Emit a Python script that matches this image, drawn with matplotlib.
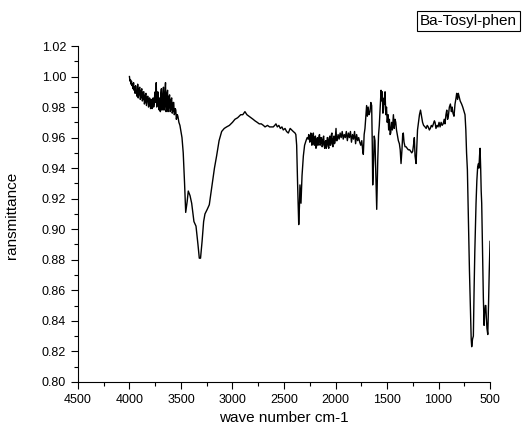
import numpy as np
import matplotlib
matplotlib.use('Agg')
import matplotlib.pyplot as plt
from matplotlib.ticker import MultipleLocator

plt.rcParams['font.family'] = ['Liberation Sans', 'DejaVu Sans']

# wave number (cm-1) and transmittance
wn_noisy1 = [4000, 3995, 3990, 3985, 3980, 3975, 3970, 3965, 3960, 3955, 3950, 3945, 3940, 3935,
             3930, 3925, 3920, 3915, 3910, 3905, 3900, 3895, 3890, 3885, 3880, 3875, 3870, 3865,
             3860, 3855, 3850, 3845, 3840, 3835, 3830, 3825, 3820, 3815, 3810, 3805, 3800, 3795,
             3790, 3785, 3780, 3775, 3770, 3765, 3760, 3755, 3750, 3745, 3740, 3735, 3730, 3725,
             3720, 3715, 3710, 3705, 3700, 3695, 3690, 3685, 3680, 3675, 3670, 3665, 3660, 3655,
             3650, 3645, 3640, 3635, 3630, 3625, 3620, 3615, 3610, 3605, 3600, 3595, 3590, 3585,
             3580, 3575, 3570, 3565, 3560, 3555, 3550, 3545, 3540, 3535, 3530, 3520, 3510]
t_noisy1 = [1.000, 0.997, 0.998, 0.995, 0.997, 0.994, 0.995, 0.992, 0.996, 0.991, 0.993, 0.989, 0.994, 0.990,
            0.990, 0.987, 0.995, 0.986, 0.988, 0.992, 0.993, 0.985, 0.986, 0.991, 0.992, 0.984, 0.985, 0.990,
            0.990, 0.982, 0.983, 0.988, 0.989, 0.981, 0.984, 0.987, 0.987, 0.980, 0.981, 0.986, 0.985, 0.979,
            0.980, 0.985, 0.979, 0.983, 0.986, 0.980, 0.982, 0.988, 0.990, 0.983, 0.996, 0.980, 0.984, 0.990,
            0.988, 0.979, 0.978, 0.986, 0.977, 0.989, 0.992, 0.978, 0.979, 0.988, 0.993, 0.978, 0.980, 0.990,
            0.996, 0.977, 0.978, 0.989, 0.991, 0.977, 0.979, 0.987, 0.988, 0.977, 0.978, 0.985, 0.986, 0.976,
            0.977, 0.983, 0.983, 0.975, 0.976, 0.979, 0.978, 0.972, 0.973, 0.975, 0.974, 0.970, 0.968]

wn_oh = [3490, 3478, 3465, 3454, 3440, 3429, 3412, 3396, 3374, 3354, 3335, 3322, 3310,
         3295, 3280, 3267, 3245, 3225, 3200, 3175, 3154, 3130, 3105, 3080, 3057, 3030,
         3000, 2976, 2950, 2920, 2900, 2879, 2860, 2840, 2820, 2800, 2782, 2760, 2740,
         2720, 2700, 2684, 2660, 2640, 2620, 2604, 2590, 2578, 2565, 2550, 2535, 2520,
         2507, 2490, 2475, 2458, 2440, 2425, 2410, 2393, 2385, 2377, 2368, 2357, 2350,
         2345, 2335, 2325, 2312, 2300, 2286, 2275]
t_oh = [0.960, 0.950, 0.930, 0.911, 0.918, 0.925, 0.922, 0.917, 0.905, 0.902, 0.890, 0.881, 0.881,
        0.892, 0.905, 0.910, 0.913, 0.916, 0.928, 0.940, 0.948, 0.958, 0.964, 0.966, 0.967, 0.968,
        0.970, 0.972, 0.973, 0.975, 0.975, 0.977, 0.975, 0.974, 0.973, 0.972, 0.971, 0.970, 0.969,
        0.969, 0.968, 0.967, 0.968, 0.967, 0.967, 0.967, 0.968, 0.969, 0.967, 0.968, 0.966, 0.967,
        0.965, 0.966, 0.964, 0.963, 0.966, 0.965, 0.964, 0.963, 0.962, 0.955, 0.930, 0.903, 0.915,
        0.929, 0.917, 0.935, 0.948, 0.955, 0.958, 0.960]

wn_noisy2 = [2265, 2260, 2255, 2250, 2245, 2240, 2235, 2230, 2225, 2220, 2215, 2210, 2205, 2200,
             2195, 2190, 2185, 2180, 2175, 2170, 2165, 2160, 2155, 2150, 2145, 2140, 2135, 2130,
             2125, 2120, 2115, 2110, 2105, 2100, 2095, 2090, 2085, 2080, 2075, 2070, 2065, 2060,
             2055, 2050, 2045, 2040, 2035, 2030, 2025, 2020, 2015, 2010, 2005, 2000, 1995, 1990,
             1985, 1975, 1965, 1955, 1945, 1935, 1925, 1915, 1905, 1895, 1885, 1875, 1865, 1855,
             1845, 1835, 1825, 1815, 1805, 1795, 1785, 1775, 1765, 1755, 1745, 1735, 1730]
t_noisy2 = [0.959, 0.962, 0.961, 0.957, 0.958, 0.963, 0.962, 0.955, 0.956, 0.961, 0.963, 0.956, 0.955, 0.960,
            0.961, 0.953, 0.954, 0.959, 0.960, 0.955, 0.957, 0.961, 0.962, 0.955, 0.956, 0.960, 0.959, 0.954,
            0.955, 0.960, 0.961, 0.955, 0.953, 0.957, 0.958, 0.953, 0.955, 0.960, 0.960, 0.954, 0.953, 0.959,
            0.961, 0.955, 0.956, 0.962, 0.963, 0.955, 0.954, 0.959, 0.961, 0.956, 0.957, 0.962, 0.966, 0.958,
            0.958, 0.962, 0.959, 0.963, 0.960, 0.964, 0.959, 0.962, 0.960, 0.964, 0.958, 0.963, 0.960, 0.964,
            0.957, 0.962, 0.959, 0.964, 0.956, 0.962, 0.958, 0.960, 0.957, 0.955, 0.958, 0.951, 0.949]

wn_fp = [1722, 1714, 1705, 1698, 1691, 1683, 1675, 1665, 1657, 1649, 1643, 1639, 1630, 1624,
         1617, 1608, 1600, 1590, 1582, 1575, 1565, 1558, 1551, 1546, 1540, 1535, 1528, 1522,
         1519, 1512, 1505, 1498, 1490, 1484, 1477, 1470, 1464, 1456, 1448, 1438, 1430, 1422,
         1415, 1408, 1400, 1390, 1380, 1372, 1364, 1355, 1348, 1342, 1335, 1325, 1315, 1305,
         1293, 1280, 1270, 1260, 1251, 1243, 1235, 1228, 1218, 1210, 1204, 1196, 1185, 1175,
         1165, 1155, 1145, 1131, 1120, 1110, 1100, 1089, 1080, 1070, 1060, 1050, 1040, 1034,
         1025, 1015, 1005, 995, 985, 975, 965, 955, 945, 937, 928, 920, 912, 905, 895, 885,
         875, 868, 860, 850, 840, 830, 824, 815, 808, 801, 790, 776, 765, 752, 743, 735, 728,
         720, 710, 700, 690, 683, 678, 670, 662, 655, 648, 642, 636, 628, 620, 612, 608, 602,
         597, 591, 586, 581, 572, 565, 558, 552, 546, 541, 536, 530, 522, 515, 508, 500]
t_fp = [0.962, 0.966, 0.975, 0.981, 0.974, 0.980, 0.975, 0.977, 0.983, 0.981, 0.955, 0.929, 0.945, 0.961,
        0.958, 0.935, 0.913, 0.945, 0.962, 0.968, 0.982, 0.991, 0.984, 0.990, 0.976, 0.978, 0.986, 0.982,
        0.990, 0.975, 0.980, 0.970, 0.975, 0.965, 0.972, 0.962, 0.963, 0.970, 0.965, 0.975, 0.966, 0.972,
        0.970, 0.965, 0.962, 0.958, 0.956, 0.952, 0.943, 0.952, 0.962, 0.963, 0.957, 0.954, 0.954, 0.953,
        0.952, 0.952, 0.951, 0.950, 0.951, 0.955, 0.960, 0.948, 0.943, 0.955, 0.965, 0.969, 0.975, 0.978,
        0.974, 0.970, 0.968, 0.967, 0.966, 0.968, 0.967, 0.965, 0.966, 0.968, 0.967, 0.969, 0.971, 0.970,
        0.966, 0.968, 0.967, 0.970, 0.967, 0.970, 0.968, 0.969, 0.972, 0.969, 0.975, 0.978, 0.972, 0.974, 0.980, 0.982,
        0.977, 0.980, 0.976, 0.974, 0.982, 0.986, 0.989, 0.985, 0.989, 0.987, 0.984, 0.982, 0.980, 0.977, 0.975, 0.965, 0.950,
        0.939, 0.905, 0.873, 0.845, 0.828, 0.823, 0.828, 0.830, 0.860, 0.885, 0.902, 0.917, 0.932, 0.941, 0.943, 0.940, 0.948,
        0.953, 0.940, 0.925, 0.917, 0.880, 0.855, 0.837, 0.845, 0.850, 0.850, 0.842, 0.835, 0.831, 0.850, 0.872, 0.892]

wavenumber = np.array(wn_noisy1 + wn_oh + wn_noisy2 + wn_fp)
transmittance = np.array(t_noisy1 + t_oh + t_noisy2 + t_fp)

fig = plt.figure(figsize=(5.23, 4.30), dpi=100)
ax = fig.add_axes([0.149, 0.112, 0.788, 0.781])
ax.plot(wavenumber, transmittance, color='black', lw=1.0)

ax.set_xlim(4500, 500)
ax.set_ylim(0.80, 1.02)
ax.xaxis.set_major_locator(MultipleLocator(500))
ax.xaxis.set_minor_locator(MultipleLocator(250))
ax.yaxis.set_major_locator(MultipleLocator(0.02))
ax.yaxis.set_minor_locator(MultipleLocator(0.01))
ax.yaxis.set_major_formatter(plt.FormatStrFormatter('%.2f'))
ax.tick_params(which='major', direction='out', length=5, width=0.8, labelsize=9)
ax.tick_params(which='minor', direction='out', length=3, width=0.8)
for s in ['top', 'right']:
    ax.spines[s].set_visible(False)

ax.set_xlabel('wave number cm-1', fontsize=11)
fig.text(0.023, 0.5, 'ransmittance', rotation=90, ha='center', va='center', fontsize=11)

fig.text(0.803, 0.951, 'Ba-Tosyl-phen', fontsize=11, ha='left', va='center',
         bbox=dict(boxstyle='square,pad=0.2', fc='white', ec='black', lw=0.8))

plt.savefig('out.png', dpi=100)
